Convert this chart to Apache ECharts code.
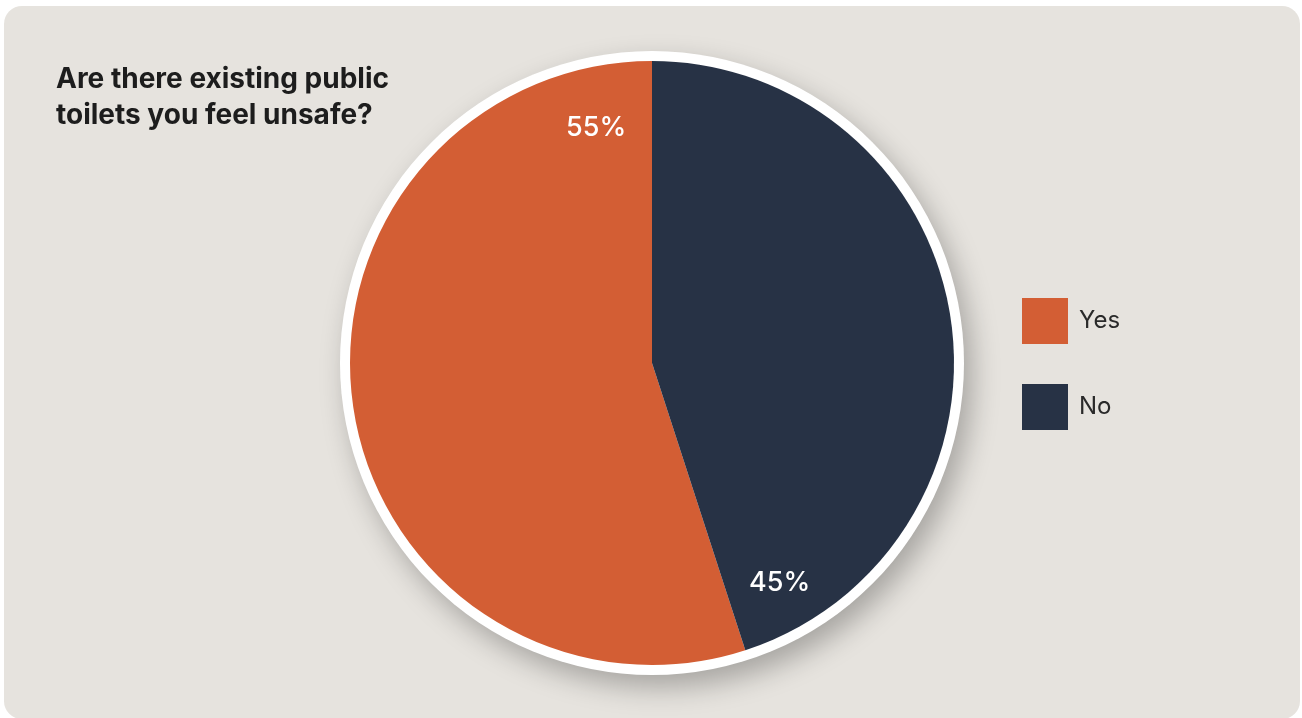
<!DOCTYPE html>
<html>
<head>
<meta charset="utf-8">
<script src="https://cdn.jsdelivr.net/npm/echarts@6/dist/echarts.min.js"></script>
<style>
html,body{margin:0;padding:0;background:#ffffff;width:1302px;height:718px;overflow:hidden;}
#panel{position:absolute;left:4px;top:6px;width:1296px;height:713px;background:#e6e3de;border-radius:18px;}
#chart{position:absolute;left:0;top:0;width:1302px;height:718px;}
</style>
</head>
<body>
<div id="panel"></div>
<div id="chart"></div>
<script>
const titleText = 'Are there existing public\ntoilets you feel unsafe?';
const categories = ['Yes', 'No'];
const values = [55, 45];
const colors = ['#d35e34', '#273245'];

const CX = 652, CY = 363, R = 302, RING = 312;
const LABEL_R = 248, LABEL_OFFSET_DEG = 13, LABEL_DY = 7;

const total = values.reduce((a, b) => a + b, 0);
const startAngles = [];
let acc = 0;
values.forEach(v => { startAngles.push(acc / total * 360); acc += v; });

const chart = echarts.init(document.getElementById('chart'), null, {renderer: 'canvas'});
chart.setOption({
  backgroundColor: 'transparent',
  animation: false,
  title: {
    text: titleText,
    left: 56,
    top: 62,
    padding: 0,
    textStyle: {
      fontFamily: 'Inter, "Liberation Sans", sans-serif',
      fontSize: 28,
      fontWeight: 'bold',
      lineHeight: 36,
      color: '#1d1d1d'
    }
  },
  legend: {
    data: categories,
    orient: 'vertical',
    left: 1022,
    top: 298,
    padding: 0,
    icon: 'rect',
    itemWidth: 46,
    itemHeight: 46,
    itemGap: 40,
    selectedMode: false,
    textStyle: {
      fontFamily: 'Inter, "Liberation Sans", sans-serif',
      fontSize: 24,
      color: '#2a2a2a',
      padding: [3, 0, 0, 6]
    }
  },
  series: [
    {
      type: 'pie',
      silent: true,
      center: [CX, CY],
      radius: [0, RING],
      label: {show: false},
      labelLine: {show: false},
      itemStyle: {
        color: '#ffffff',
        shadowBlur: 28,
        shadowColor: 'rgba(0,0,0,0.28)',
        shadowOffsetX: 8,
        shadowOffsetY: 12
      },
      data: [{name: '_ring', value: 1}]
    },
    {
      type: 'pie',
      silent: true,
      center: [CX, CY],
      radius: [0, R],
      startAngle: 90,
      clockwise: false,
      color: colors,
      labelLine: {show: false},
      label: {
        show: true,
        position: 'inside',
        formatter: '{c}%',
        color: '#ffffff',
        fontFamily: 'Inter, "Liberation Sans", sans-serif',
        fontSize: 27,
        fontWeight: 500
      },
      labelLayout: function (params) {
        const i = params.dataIndex;
        const a = (startAngles[i] + LABEL_OFFSET_DEG) * Math.PI / 180;
        return {
          x: CX - LABEL_R * Math.sin(a),
          y: CY - LABEL_R * Math.cos(a) + LABEL_DY,
          align: 'center',
          verticalAlign: 'middle'
        };
      },
      data: categories.map((c, i) => ({name: c, value: values[i]}))
    }
  ]
});
</script>
</body>
</html>
